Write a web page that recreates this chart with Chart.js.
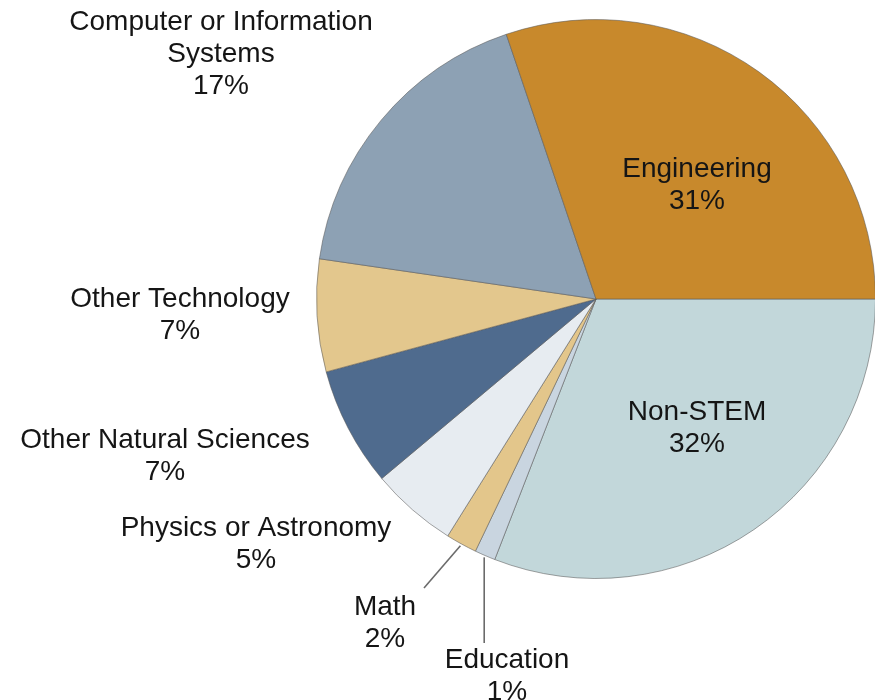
<!DOCTYPE html>
<html>
<head>
<meta charset="utf-8">
<script src="https://cdn.jsdelivr.net/npm/chart.js@4.4.0/dist/chart.umd.min.js"></script>
<style>
  html, body { margin: 0; padding: 0; background: #ffffff; overflow: hidden; }
  #wrap { width: 875px; height: 700px; overflow: hidden; position: relative; }
  canvas { display: block; }
</style>
</head>
<body>
<div id="wrap"><canvas id="c" width="880" height="700"></canvas></div>
<script>
// ---- data (clockwise from 3 o'clock) ----
const categories = ["Non-STEM", "Education", "Math", "Physics or Astronomy",
  "Other Natural Sciences", "Other Technology", "Computer or Information Systems", "Engineering"];
const shares = [30.9, 1.2, 1.8, 5.0, 6.9, 6.5, 17.5, 30.2];
const percentLabels = ["32%", "1%", "2%", "5%", "7%", "7%", "17%", "31%"];
const labelLines = [["Non-STEM"], ["Education"], ["Math"], ["Physics or Astronomy"],
  ["Other Natural Sciences"], ["Other Technology"], ["Computer or Information", "Systems"], ["Engineering"]];

// ---- styling / layout ----
const sliceColors = ["#C2D7DA", "#C9D5E0", "#E3C68B", "#E7ECF1", "#4F6B8E", "#E3C78D", "#8DA1B4", "#C8892C"];
// label centre (x of text block, y of first line)
const labelAnchors = [
  {x: 697, y: 412}, {x: 507, y: 660}, {x: 385, y: 607}, {x: 256, y: 528},
  {x: 165, y: 440}, {x: 180, y: 299}, {x: 221, y: 22}, {x: 697, y: 169}
];
// leader lines: index -> end point
const leaders = { 1: {x: null, y: 643, vertical: true}, 2: {x: 424, y: 588} };
const LINE_H = 32;

const labelPlugin = {
  id: 'sliceLabels',
  afterDatasetsDraw(chart) {
    const ctx = chart.ctx;
    const meta = chart.getDatasetMeta(0);
    ctx.save();
    // leader lines
    ctx.strokeStyle = '#6b6b6b';
    ctx.lineWidth = 1.6;
    Object.keys(leaders).forEach(k => {
      const i = +k;
      const arc = meta.data[i];
      const p = arc.getProps(['x', 'y', 'startAngle', 'endAngle', 'outerRadius'], true);
      const mid = (p.startAngle + p.endAngle) / 2;
      const sx = p.x + Math.cos(mid) * (p.outerRadius + 2);
      const sy = p.y + Math.sin(mid) * (p.outerRadius + 2);
      const L = leaders[k];
      ctx.beginPath();
      ctx.moveTo(sx, sy);
      if (L.vertical) ctx.lineTo(sx, L.y); else ctx.lineTo(L.x, L.y);
      ctx.stroke();
    });
    // texts
    ctx.fillStyle = '#151515';
    ctx.font = '28px "Liberation Sans", Arial, Helvetica, sans-serif';
    ctx.textAlign = 'center';
    ctx.textBaseline = 'middle';
    categories.forEach((c, i) => {
      const a = labelAnchors[i];
      const lines = labelLines[i].concat([percentLabels[i]]);
      lines.forEach((t, j) => ctx.fillText(t, a.x, a.y + j * LINE_H));
    });
    ctx.restore();
  }
};

new Chart(document.getElementById('c'), {
  type: 'pie',
  data: {
    labels: categories,
    datasets: [{
      data: shares,
      backgroundColor: sliceColors,
      borderColor: 'rgba(90,90,90,0.55)',
      borderWidth: 1
    }]
  },
  options: {
    responsive: false,
    devicePixelRatio: 1,
    animation: false,
    rotation: 90,
    layout: { padding: { left: 316, right: 4, top: 19, bottom: 121 } },
    plugins: { legend: { display: false }, tooltip: { enabled: false } }
  },
  plugins: [labelPlugin]
});
</script>
</body>
</html>
